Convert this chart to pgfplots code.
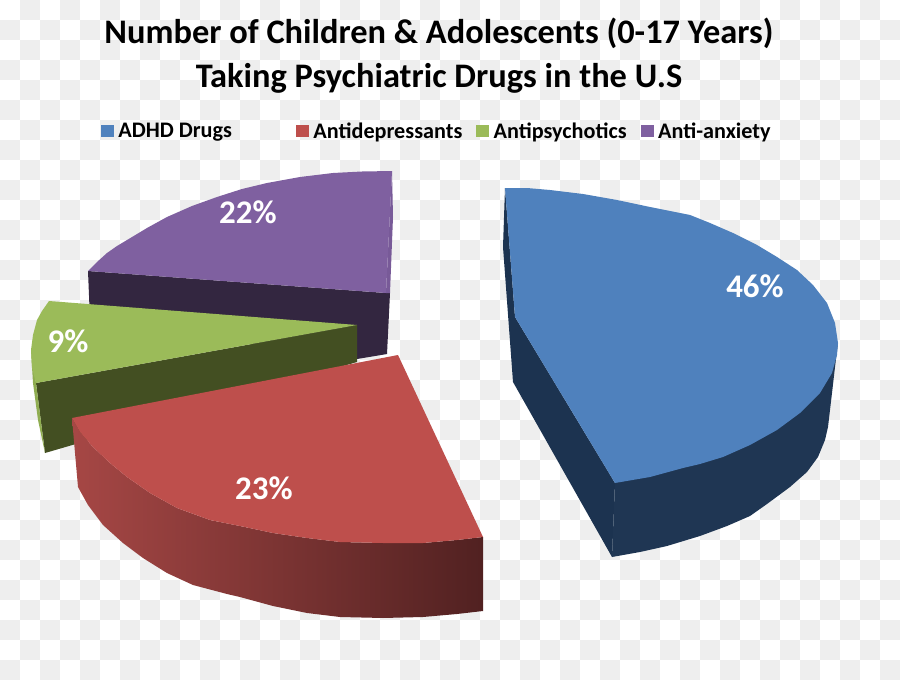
\documentclass[border=0pt]{standalone}
\usepackage{fontspec}
\setmainfont{Carlito}
\usepackage{pgfplots}
\pgfplotsset{compat=1.18}
\definecolor{chk}{HTML}{EEEEEE}
\definecolor{blueT}{HTML}{4F81BD}
\definecolor{blueD}{HTML}{1C3350}
\definecolor{blueF}{HTML}{1F3653}
\definecolor{redT}{HTML}{BE4F4C}
\definecolor{redL}{HTML}{A64745}
\definecolor{redM}{HTML}{7F3635}
\definecolor{redR}{HTML}{512121}
\definecolor{greenT}{HTML}{9BBB59}
\definecolor{greenD}{HTML}{434F22}
\definecolor{greenS}{HTML}{8FAD50}
\definecolor{purpT}{HTML}{7F60A0}
\definecolor{purpD}{HTML}{332640}
\definecolor{purpS}{HTML}{785A98}
\begin{document}
\begin{tikzpicture}[x=1pt,y=1pt]
\path[use as bounding box] (0,0) rectangle (900,680);
\fill[white] (0,0) rectangle (900,680);
\foreach \c in {0,...,44}{
  \foreach \r in {0,...,33}{
    \pgfmathparse{int(mod(\c+\r,2))}
    \ifnum\pgfmathresult=1
      \fill[chk] (\c*20,680-\r*20) rectangle ++(20,-20);
    \fi
  }
}
\begin{axis}[
  at={(0,0)}, anchor=south west,
  scale only axis, width=900pt, height=680pt,
  xmin=0, xmax=900, ymin=0, ymax=680, y dir=reverse,
  hide axis, clip=false,
  title={Number of Children \& Adolescents (0-17 Years)\\Taking Psychiatric Drugs in the U.S},
  title style={at={(0.4878,0.910)}, anchor=center, align=center, inner sep=0pt,
    font=\fontsize{34.4}{44}\selectfont\bfseries},
  legend columns=4,
  legend cell align=left,
  legend style={at={(0.1122,0.8074)}, anchor=west, draw=none, fill=none, inner sep=0pt, outer sep=0pt,
    font=\fontsize{22.2}{24}\selectfont\bfseries,
    /tikz/every even column/.append style={column sep=12pt}},
  legend image code/.code={\fill[#1] (0pt,-5.5pt) rectangle (12pt,5.5pt);},
]
\addlegendimage{blueT}\addlegendentry{\hspace{3pt}ADHD Drugs\rule{50pt}{0pt}}
\addlegendimage{redT}\addlegendentry{\hspace{3pt}Antidepressants}
\addlegendimage{greenT}\addlegendentry{\hspace{3pt}Antipsychotics}
\addlegendimage{purpT}\addlegendentry{\hspace{3pt}Anti-anxiety}

% purple slice
\addplot[forget plot, fill=purpD, draw=none] coordinates {(88,271)(386,293)(390,293)(387,354)(357,359)(90,320)} --cycle;
\addplot[forget plot, fill=purpS, draw=none] coordinates {(392,171)(393,217)(390,293)(386,293)} --cycle;
\addplot[forget plot, fill=purpT, draw=none] coordinates {(88,271)(97,262)(107,253)(117,246)(127,240)(147,228)(167,217)(192,206)(217,197)(242,189)(267,183)(300,177)(333,173)(362,171.5)(392,171)(386,293)} --cycle;

% green slice
\addplot[forget plot, fill=greenD, draw=none] coordinates {(36,383)(357,325)(357,362)(45,453)} --cycle;
\addplot[forget plot, fill=greenS, draw=none] coordinates {(31,350)(33,383)(38,420)(45,453)(36,383)} --cycle;
\addplot[forget plot, fill=greenT, draw=none] coordinates {(49,301)(42,311)(37,320)(33,335)(31,350)(32,368)(36,383)(357,325)} --cycle;

% red slice
\addplot[forget plot, left color=redL, middle color=redM, right color=redR, draw=none] coordinates {(72,418)(80,432)(93,447)(110,463)(127,477)(150,493)(177,508)(210,520)(240,526)(273,533)(307,538)(340,542)(383,543)(423,543)(457,540)(483,537)(483,611)(457,614)(423,617)(383,618)(340,617)(307,613)(273,606)(240,597)(227,594)(193,585)(167,573)(143,558)(123,543)(103,525)(88,505)(78,487)(75,453)} --cycle;
\addplot[forget plot, fill=redT, draw=none] coordinates {(398,355)(72,418)(80,432)(93,447)(110,463)(127,477)(150,493)(177,508)(210,520)(240,526)(273,533)(307,538)(340,542)(383,543)(423,543)(457,540)(483,537)} --cycle;

% blue slice
\addplot[forget plot, fill=blueD, draw=none] coordinates {(505,188)(503,247)(513,382)(612,557)(615,483)(515,317)} --cycle;
\addplot[forget plot, fill=blueF, draw=none] coordinates {(615,483)(612,557)(640,552)(667,546)(700,536)(727,526)(750,516)(767,504)(790,487)(807,472)(818,457)(825,440)(828,427)(832,393)(835,367)(838,343)} --cycle;
\addplot[forget plot, fill=blueT, draw=none] coordinates {(505,188)(527,188)(550,190)(583,194)(617,200)(650,207)(690,215)(710,223)(733,233)(757,245)(777,257)(797,270)(813,285)(827,303)(835,323)(838,343)(837,355)(832,373)(820,393)(800,413)(777,430)(750,445)(723,457)(700,464)(683,468)(650,477)(615,483)(515,317)} --cycle;

% data labels
\node[text=white, font=\fontsize{33}{34}\selectfont\bfseries] at (axis cs:755,286) {46\%};
\node[text=white, font=\fontsize{33}{34}\selectfont\bfseries] at (axis cs:248,212) {22\%};
\node[text=white, font=\fontsize{33}{34}\selectfont\bfseries] at (axis cs:68,341) {9\%};
\node[text=white, font=\fontsize{33}{34}\selectfont\bfseries] at (axis cs:264,488) {23\%};
\end{axis}
\end{tikzpicture}
\end{document}
